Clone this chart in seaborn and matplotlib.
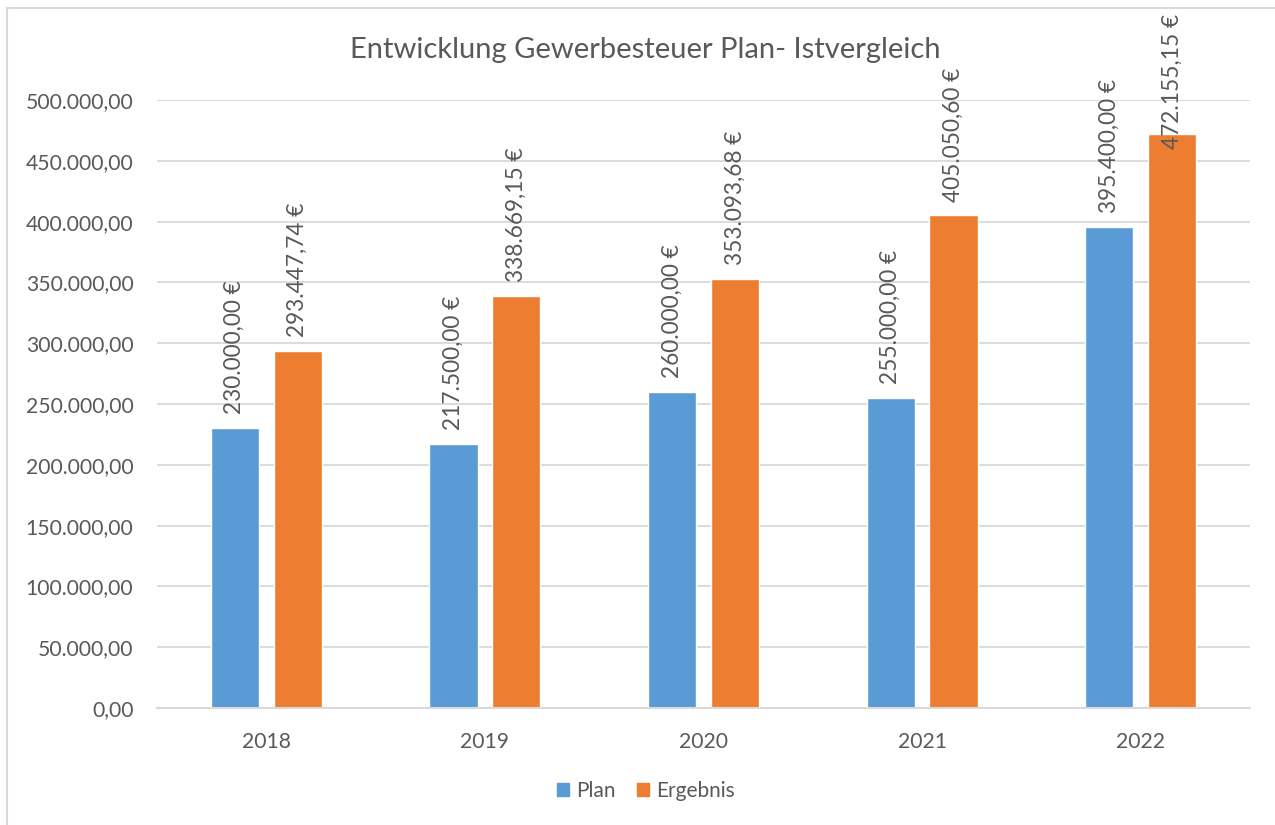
import numpy as np
import pandas as pd
import seaborn as sns
import matplotlib.pyplot as plt
from matplotlib.patches import Rectangle

years = ['2018', '2019', '2020', '2021', '2022']
plan = [230000.00, 217500.00, 260000.00, 255000.00, 395400.00]
ergebnis = [293447.74, 338669.15, 353093.68, 405050.60, 472155.15]
series = ['Plan', 'Ergebnis']
colors = ['#5B9BD5', '#ED7D31']

df = pd.DataFrame({
    'Jahr': years * 2,
    'Wert': plan + ergebnis,
    'Reihe': ['Plan'] * len(years) + ['Ergebnis'] * len(years),
})


def de_fmt(v, euro=False):
    s = f'{v:,.2f}'.replace(',', 'X').replace('.', ',').replace('X', '.')
    return s + ' €' if euro else s


sns.set_theme(style='white')
plt.rcParams['font.family'] = ['Lato', 'DejaVu Sans']
text_col = '#595959'
grid_col = '#D9D9D9'

fig = plt.figure(figsize=(12.75, 8.25), dpi=100)
ax = fig.add_axes([157 / 1275, 1 - 708 / 825, 1093 / 1275, 608 / 825])

sns.barplot(data=df, x='Jahr', y='Wert', hue='Reihe', hue_order=series,
            palette=colors, width=0.576, gap=0.235, saturation=1, ax=ax)

ax.set_ylim(0, 500000)
ax.set_yticks(np.arange(0, 500001, 50000))
ax.set_yticklabels([de_fmt(t) for t in np.arange(0, 500001, 50000)])
ax.set_xlabel('')
ax.set_ylabel('')
ax.yaxis.grid(True, color=grid_col, lw=1.3)
ax.set_axisbelow(True)
for s in ['top', 'right', 'left']:
    ax.spines[s].set_visible(False)
ax.spines['bottom'].set_color(grid_col)
ax.spines['bottom'].set_linewidth(1.5)
ax.tick_params(axis='y', length=0, pad=17, labelsize=15.2, labelcolor=text_col)
ax.tick_params(axis='x', length=0, pad=17, labelsize=15.2, labelcolor=text_col)

# data labels, rotated, above each bar
fig.canvas.draw()
renderer = fig.canvas.get_renderer()
top_limit = 825 - 14
for cont in ax.containers:
    for bar in cont:
        h = bar.get_height()
        x = bar.get_x() + bar.get_width() / 2
        t = ax.annotate(de_fmt(h, euro=True), (x, h), xytext=(0, 10),
                        textcoords='offset points', rotation=90,
                        ha='center', va='bottom', fontsize=16.3, color=text_col)
        bb = t.get_window_extent(renderer)
        if bb.y1 > top_limit:
            shift = (bb.y1 - top_limit) * 72 / fig.dpi
            t.set_position((0, 10 - shift))

ax.legend_.remove()
handles = [Rectangle((0, 0), 1, 1, color=c) for c in colors]
fig.legend(handles, series, loc='center', bbox_to_anchor=(646 / 1275, 1 - 791 / 825),
           ncol=2, frameon=False, fontsize=15, handlelength=0.6, handleheight=0.6,
           handletextpad=0.35, columnspacing=1.0, labelcolor=text_col)

fig.text(645 / 1275, 1 - 50 / 825, 'Entwicklung Gewerbesteuer Plan- Istvergleich',
         ha='center', va='center', fontsize=21, color=text_col)

fig.patches.append(Rectangle((7 / 1275, -0.1), 1.2, 1.1 - 8 / 825,
                             transform=fig.transFigure, fill=False,
                             edgecolor=grid_col, lw=1.5))

fig.savefig('out.png', dpi=100)
